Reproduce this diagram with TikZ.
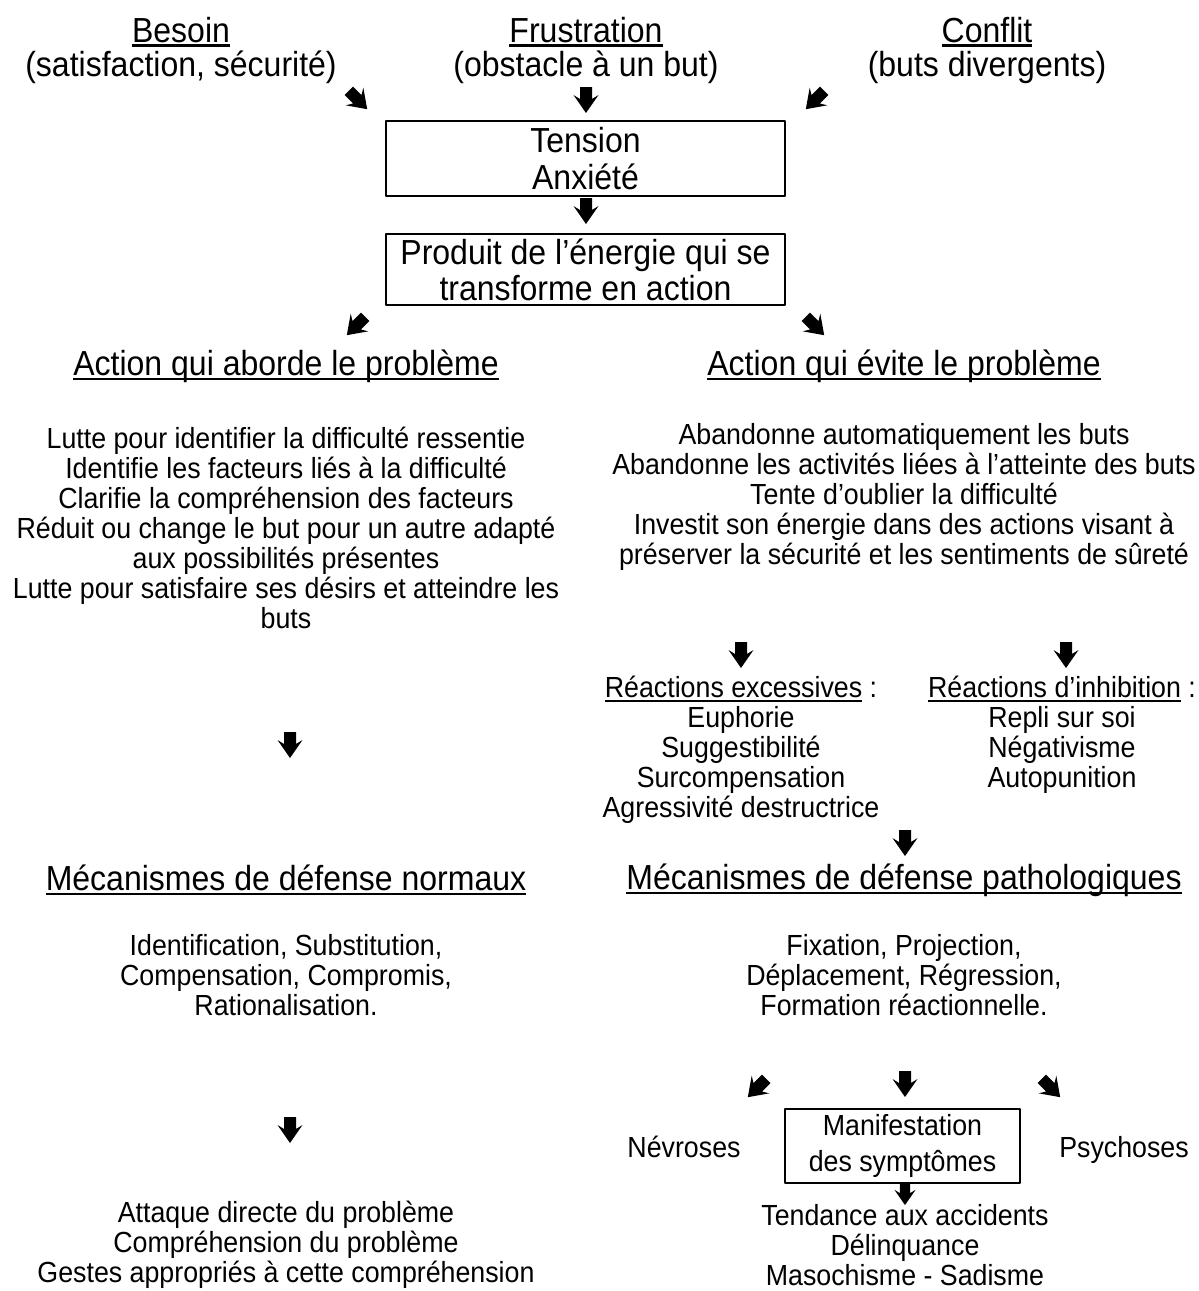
\documentclass[tikz,border=0pt]{standalone}
\usepackage{fontspec}
\setmainfont{Liberation Sans}[FakeStretch=0.92]
\usetikzlibrary{positioning}

\newcommand{\souligne}[1]{\leavevmode\setbox0\hbox{#1}\rlap{\rule[-4.5pt]{\wd0}{2.2pt}}\box0}

\tikzset{
  titre/.style={font=\fontsize{34.8}{34}\selectfont,align=center,inner sep=0pt},
  texte/.style={font=\fontsize{29.1}{30}\selectfont,align=center,inner sep=0pt},
  cadre/.style={draw,line width=2.2pt,align=center,inner sep=0pt},
  fleche/.pic={\fill (-6,-13) -- (6,-13) -- (6,-1) -- (12.5,-5) -- (0,13)
                -- (-12.5,-5) -- (-6,-1) -- cycle;}
}

\begin{document}
\begin{tikzpicture}[x=1pt,y=-1pt,line cap=round,line join=round]
    \useasboundingbox (0,0) rectangle (1199,1291);
    % sources
    \node[titre] (besoin) at (181,50) {\souligne{Besoin}\\(satisfaction, sécurité)};
    \node[titre] (frustration) at (586,50) {\souligne{Frustration}\\(obstacle à un but)};
    \node[titre] (conflit) at (987,50) {\souligne{Conflit}\\(buts divergents)};
    \pic[rotate=45] at (358,100) {fleche};
    \pic at (586,100) {fleche};
    \pic[rotate=-45] at (815,100) {fleche};
    % tension
    \node[cadre,minimum width=399pt,minimum height=75pt,
      font=\fontsize{34.8}{37}\selectfont] (tension) at (585.5,158.5) {Tension\\Anxiété};
    \pic at (586,211) {fleche};
    \node[cadre,minimum width=399pt,minimum height=71pt,
      font=\fontsize{34.8}{36}\selectfont] (energie) at (585.5,269.5)
      {Produit de l’énergie qui se\\transforme en action};
    \pic[rotate=-45] at (356,326) {fleche};
    \pic[rotate=45] at (815,326) {fleche};
    % deux voies
    \node[titre] (aborde) at (286,366) {\souligne{Action qui aborde le problème}};
    \node[titre] (evite) at (904,366) {\souligne{Action qui évite le problème}};
    \node[texte] (lutte) at (286,528) {Lutte pour identifier la difficulté ressentie\\
      Identifie les facteurs liés à la difficulté\\
      Clarifie la compréhension des facteurs\\
      Réduit ou change le but pour un autre adapté\\
      aux possibilités présentes\\
      Lutte pour satisfaire ses désirs et atteindre les\\
      buts};
    \node[texte] (abandon) at (904,497) {Abandonne automatiquement les buts\\
      Abandonne les activités liées à l’atteinte des buts\\
      Tente d’oublier la difficulté\\
      Investit son énergie dans des actions visant à\\
      préserver la sécurité et les sentiments de sûreté};
    \pic at (741,655) {fleche};
    \pic at (1066,655) {fleche};
    \node[texte] (excessives) at (741,750) {\souligne{Réactions excessives}~:\\
      Euphorie\\Suggestibilité\\Surcompensation\\Agressivité destructrice};
    \node[texte] (inhibition) at (1062,735) {\souligne{Réactions d’inhibition}~:\\
      Repli sur soi\\Négativisme\\Autopunition};
    \pic at (290,745) {fleche};
    \pic at (905,843) {fleche};
    % mecanismes
    \node[titre] (normaux) at (286,880) {\souligne{Mécanismes de défense normaux}};
    \node[titre] (patho) at (904,880) {\souligne{Mécanismes de défense pathologiques}};
    \node[texte] (identif) at (286,975) {Identification, Substitution,\\
      Compensation, Compromis,\\Rationalisation.};
    \node[texte] (fixation) at (904,975) {Fixation, Projection,\\
      Déplacement, Régression,\\Formation réactionnelle.};
    \pic[rotate=-45] at (757,1088) {fleche};
    \pic at (905,1084) {fleche};
    \pic[rotate=45] at (1051,1088) {fleche};
    \pic at (290,1130) {fleche};
    \node[texte,anchor=base] (nevroses) at (684,1157) {Névroses};
    \node[cadre,minimum width=235pt,minimum height=74pt,
      font=\fontsize{29.1}{36}\selectfont] (manif) at (902.5,1146)
      {Manifestation\\des symptômes};
    \node[texte,anchor=base] (psychoses) at (1124,1157) {Psychoses};
    \pic[scale=0.85] at (905,1194) {fleche};
    % issues
    \node[texte] (attaque) at (286,1245) {Attaque directe du problème\\
      Compréhension du problème\\Gestes appropriés à cette compréhension};
    \node[texte] (tendance) at (905,1245) {Tendance aux accidents\\
      Délinquance\\Masochisme - Sadisme};
\end{tikzpicture}
\end{document}
